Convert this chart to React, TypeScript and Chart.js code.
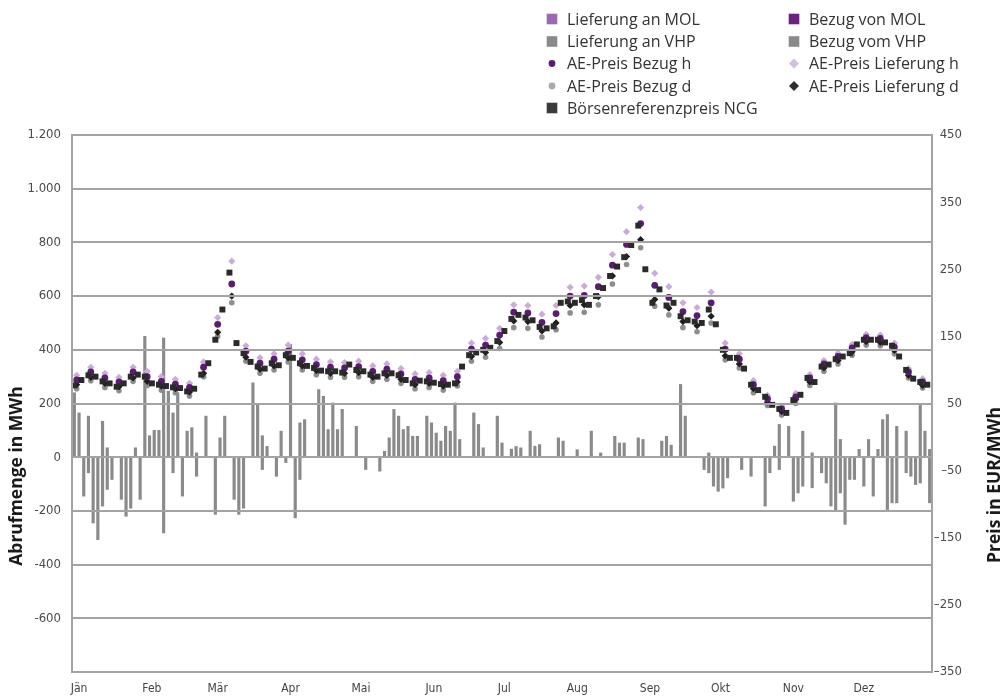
import React, { useEffect, useRef } from 'react';
import { Chart, registerables } from 'chart.js';

Chart.register(...registerables);

// ---------- categories / tick labels ----------
const MONTHS = ['Jän', 'Feb', 'Mär', 'Apr', 'Mai', 'Jun', 'Jul', 'Aug', 'Sep', 'Okt', 'Nov', 'Dez'];
const MONTH_START_DAYS = [0, 31, 59, 90, 120, 151, 181, 212, 243, 273, 304, 334];
const LEFT_TICKS = [-800, -600, -400, -200, 0, 200, 400, 600, 800, 1000, 1200];
const RIGHT_TICKS = [-350, -250, -150, -50, 50, 150, 250, 350, 450];

// ---------- Börsenreferenzpreis NCG (EUR/MWh), every 3rd day from day 0 ----------
const NCG_STEP_DAYS = 3;
const ncgPrice = [
  77, 85, 92, 90, 83, 80, 75, 80, 90, 93,
  90, 80, 78, 76, 74, 73, 68, 72, 93, 110,
  145, 190, 245, 140, 125, 112, 105, 102, 110, 107,
  122, 118, 110, 106, 103, 99, 98, 98, 96, 108,
  100, 98, 93, 90, 95, 95, 92, 85, 80, 84,
  83, 81, 79, 78, 80, 105, 122, 126, 130, 133,
  143, 158, 176, 182, 178, 174, 164, 162, 165, 200,
  202, 200, 204, 197, 210, 222, 240, 254, 268, 286,
  315, 250, 200, 220, 196, 200, 180, 174, 172, 170,
  190, 168, 130, 118, 118, 102, 78, 70, 60, 48,
  42, 36, 55, 63, 88, 82, 105, 108, 116, 120,
  125, 138, 145, 145, 145, 141, 136, 120, 100, 87,
  82, 78,
];

// ---------- AE prices (EUR/MWh), every 6th day from day 1 ----------
const DETAIL_FIRST_DAY = 1;
const DETAIL_STEP_DAYS = 6;
const aeBezugH = [
  85, 97, 88, 82, 97, 90, 83, 79, 74, 104,
  168, 228, 128, 110, 116, 128, 115, 108, 104, 103,
  105, 98, 101, 94, 86, 88, 84, 90, 131, 137,
  152, 186, 185, 171, 184, 210, 211, 224, 256, 287,
  318, 226, 208, 187, 181, 200, 131, 116, 78, 57,
  42, 60, 88, 109, 120, 133, 148, 147, 134, 97,
  82,
];
const aeLieferungH = [
  92, 104, 95, 89, 104, 98, 90, 86, 80, 112,
  178, 262, 136, 118, 124, 137, 124, 116, 112, 111,
  113, 106, 109, 102, 94, 96, 92, 98, 140, 147,
  162, 197, 196, 183, 196, 223, 225, 238, 272, 306,
  342, 244, 224, 200, 193, 216, 140, 124, 84, 62,
  46, 65, 93, 114, 125, 138, 153, 152, 140, 102,
  87,
];
const aeBezugD = [
  72, 84, 74, 69, 83, 77, 70, 66, 61, 90,
  150, 200, 113, 95, 100, 112, 100, 93, 89, 89,
  90, 83, 86, 80, 72, 74, 70, 76, 113, 119,
  132, 163, 162, 149, 160, 185, 186, 197, 228, 257,
  282, 195, 182, 163, 157, 170, 115, 103, 66, 47,
  33, 50, 77, 98, 109, 122, 137, 136, 124, 88,
  73,
];
const aeLieferungD = [
  78, 89, 80, 75, 88, 83, 76, 72, 67, 95,
  156, 210, 119, 101, 106, 118, 106, 99, 95, 95,
  96, 89, 92, 86, 78, 80, 76, 82, 120, 126,
  141, 173, 172, 158, 170, 196, 197, 209, 240, 269,
  294, 205, 192, 172, 166, 180, 121, 109, 72, 52,
  38, 56, 82, 103, 114, 127, 142, 141, 129, 92,
  77,
];

// ---------- Abrufmenge (MWh), every 2nd day from day 0 ----------
const BAR_STEP_DAYS = 2;
const lieferungVHP = [
  240, 165, 0, 153, 0, 0, 134, 35, 0, 0,
  0, 0, 0, 35, 0, 450, 80, 100, 100, 444,
  246, 165, 240, 0, 97, 110, 16, 0, 153, 0,
  0, 72, 153, 0, 0, 0, 0, 0, 277, 196,
  80, 40, 0, 0, 97, 0, 420, 0, 128, 140,
  0, 0, 252, 227, 103, 202, 103, 178, 0, 0,
  115, 0, 0, 0, 0, 0, 22, 72, 178, 153,
  103, 115, 78, 78, 0, 153, 128, 90, 60, 115,
  97, 202, 66, 0, 0, 165, 122, 35, 0, 0,
  153, 53, 0, 30, 40, 35, 0, 97, 41, 47,
  0, 0, 0, 72, 60, 0, 0, 28, 0, 0,
  97, 0, 16, 0, 0, 78, 53, 53, 0, 0,
  72, 66, 0, 0, 0, 60, 78, 45, 0, 271,
  153, 0, 0, 0, 0, 16, 0, 0, 0, 0,
  0, 0, 0, 0, 0, 0, 0, 0, 0, 41,
  122, 0, 115, 0, 0, 97, 0, 16, 0, 0,
  0, 0, 202, 66, 0, 0, 0, 29, 0, 66,
  0, 29, 140, 159, 0, 115, 0, 97, 0, 0,
  196, 97, 29,
];
const bezugVHP = [
  0, 0, -145, -58, -245, -307, -182, -120, -83, 0,
  -157, -220, -190, 0, -157, 0, 0, 0, 0, -282,
  0, -58, 0, -145, 0, 0, -71, 0, 0, 0,
  -213, 0, 0, 0, -157, -213, -190, 0, 0, 0,
  -46, 0, 0, -71, 0, -20, 0, -226, -83, 0,
  0, 0, 0, 0, 0, 0, 0, 0, 0, 0,
  0, 0, -46, 0, 0, -52, 0, 0, 0, 0,
  0, 0, 0, 0, 0, 0, 0, 0, 0, 0,
  0, 0, 0, 0, 0, 0, 0, 0, 0, 0,
  0, 0, 0, 0, 0, 0, 0, 0, 0, 0,
  0, 0, 0, 0, 0, 0, 0, 0, 0, 0,
  0, 0, 0, 0, 0, 0, 0, 0, 0, 0,
  0, 0, 0, 0, 0, 0, 0, 0, 0, 0,
  0, 0, 0, 0, -46, -58, -108, -127, -115, -77,
  0, 0, -46, 0, -71, 0, 0, -182, -58, 0,
  -46, 0, 0, -164, -133, -108, 0, -114, 0, -58,
  -96, -182, -201, -133, -250, -83, -83, 0, -108, 0,
  -145, 0, 0, -195, -170, -170, 0, -58, -71, -102,
  -96, 0, -170,
];
const lieferungMOL: number[] = [];
const bezugMOL: number[] = [];

// ---------- styling ----------
const GRID = '#a3a3a3';
const TICK_FONT = 'DejaVu Sans Condensed, DejaVu Sans, sans-serif';
const TEXT_FONT = 'Open Sans, Noto Sans, sans-serif';

const LEGEND = [
  { label: 'Lieferung an MOL', kind: 'square', color: '#9b69b1' },
  { label: 'Bezug von MOL', kind: 'square', color: '#6a2383' },
  { label: 'Lieferung an VHP', kind: 'square', color: '#8a8a8a' },
  { label: 'Bezug vom VHP', kind: 'square', color: '#8a8a8a' },
  { label: 'AE-Preis Bezug h', kind: 'dot', color: '#5b1c74' },
  { label: 'AE-Preis Lieferung h', kind: 'diamond', color: '#d4bfe0' },
  { label: 'AE-Preis Bezug d', kind: 'dot', color: '#ababab' },
  { label: 'AE-Preis Lieferung d', kind: 'diamond', color: '#2e2e2e' },
  { label: 'Börsenreferenzpreis NCG', kind: 'square', color: '#3a3a3a' },
];

function fmtThousands(v: number): string {
  const a = Math.abs(v);
  const s = a >= 1000 ? Math.floor(a / 1000) + '.' + String(a % 1000).padStart(3, '0') : String(a);
  return (v < 0 ? '-' : '') + s;
}

const decorPlugin = {
  id: 'decor',
  afterDraw(chart: any) {
    const ctx = chart.ctx as CanvasRenderingContext2D;
    ctx.save();
    const colMarkerX = [552, 794];
    const colTextX = [567, 809];
    const rowY = [19, 41.5, 63.5, 86, 108];
    ctx.font = '16px ' + TEXT_FONT;
    ctx.textBaseline = 'middle';
    ctx.textAlign = 'left';
    LEGEND.forEach((item, k) => {
      const col = k % 2;
      const row = Math.floor(k / 2);
      const cx = colMarkerX[col];
      const cy = rowY[row];
      ctx.fillStyle = item.color;
      if (item.kind === 'square') {
        ctx.fillRect(cx - 5.3, cy - 5.3, 10.6, 10.6);
      } else if (item.kind === 'dot') {
        ctx.beginPath();
        ctx.arc(cx, cy, 3.4, 0, Math.PI * 2);
        ctx.fill();
      } else {
        ctx.beginPath();
        ctx.moveTo(cx, cy - 5);
        ctx.lineTo(cx + 5, cy);
        ctx.lineTo(cx, cy + 5);
        ctx.lineTo(cx - 5, cy);
        ctx.closePath();
        ctx.fill();
      }
      ctx.fillStyle = '#333333';
      ctx.fillText(item.label, colTextX[col], cy + 1);
    });
    ctx.font = 'bold 17.5px ' + TEXT_FONT;
    ctx.fillStyle = '#1a1a1a';
    ctx.textAlign = 'center';
    ctx.textBaseline = 'middle';
    ctx.save();
    ctx.translate(17, 476);
    ctx.rotate(-Math.PI / 2);
    ctx.fillText('Abrufmenge in MWh', 0, 0);
    ctx.restore();
    ctx.save();
    ctx.translate(995, 485);
    ctx.rotate(-Math.PI / 2);
    ctx.fillText('Preis in EUR/MWh', 0, 0);
    ctx.restore();
    ctx.restore();
  },
};

export default function App() {
  const ref = useRef<HTMLCanvasElement>(null);

  useEffect(() => {
    const ncgPts = ncgPrice.map((y, i) => ({ x: i * NCG_STEP_DAYS, y }));
    const detail = (arr: number[]) => arr.map((y, i) => ({ x: DETAIL_FIRST_DAY + i * DETAIL_STEP_DAYS, y }));
    const bars = (arr: number[]) => arr.map((y, i) => ({ x: i * BAR_STEP_DAYS, y }));

    const pointBase = { type: 'line', showLine: false, yAxisID: 'y1', pointBorderWidth: 0 };
    const barBase = { type: 'bar', yAxisID: 'y', grouped: false, barThickness: 2.5, borderWidth: 0 };

    const chart = new Chart(ref.current as HTMLCanvasElement, {
      type: 'bar',
      data: {
        datasets: [
          { ...pointBase, label: 'Börsenreferenzpreis NCG', data: ncgPts, pointStyle: 'rect', pointRadius: 4.2, backgroundColor: '#2a2a2a', borderColor: '#2a2a2a', order: 0 },
          { ...pointBase, label: 'AE-Preis Bezug h', data: detail(aeBezugH), pointStyle: 'circle', pointRadius: 3.4, backgroundColor: '#5b1c74', borderColor: '#5b1c74', order: 1 },
          { ...pointBase, label: 'AE-Preis Lieferung d', data: detail(aeLieferungD), pointStyle: 'rectRot', pointRadius: 3.6, backgroundColor: '#1e1e1e', borderColor: '#1e1e1e', order: 2 },
          { ...pointBase, label: 'AE-Preis Bezug d', data: detail(aeBezugD), pointStyle: 'circle', pointRadius: 2.8, backgroundColor: '#8e8e8e', borderColor: '#8e8e8e', order: 3 },
          { ...pointBase, label: 'AE-Preis Lieferung h', data: detail(aeLieferungH), pointStyle: 'rectRot', pointRadius: 3.6, backgroundColor: '#c9acd8', borderColor: '#c9acd8', order: 4 },
          { ...barBase, label: 'Lieferung an MOL', data: bars(lieferungMOL), backgroundColor: '#9b69b1', order: 10 },
          { ...barBase, label: 'Bezug von MOL', data: bars(bezugMOL), backgroundColor: '#6a2383', order: 10 },
          { ...barBase, label: 'Lieferung an VHP', data: bars(lieferungVHP), backgroundColor: '#8a8a8a', order: 11 },
          { ...barBase, label: 'Bezug vom VHP', data: bars(bezugVHP), backgroundColor: '#8a8a8a', order: 11 },
        ] as any,
      },
      options: {
        responsive: false,
        animation: false,
        devicePixelRatio: 1,
        layout: { padding: { top: 135, left: 0, right: 46, bottom: 0 } },
        plugins: { legend: { display: false }, tooltip: { enabled: false } },
        scales: {
          x: {
            type: 'linear',
            min: -1,
            max: 365,
            offset: false,
            grid: { display: false },
            border: { display: true, color: GRID, width: 2, z: 2 },
            afterBuildTicks: (s: any) => {
              s.ticks = MONTH_START_DAYS.map((d) => ({ value: d + 2 }));
            },
            afterFit: (s: any) => {
              s.height = 25;
            },
            ticks: {
              autoSkip: false,
              maxRotation: 0,
              padding: 2,
              color: '#444',
              font: { family: TICK_FONT, size: 12 },
              callback: (_v: any, i: number) => MONTHS[i],
            },
          },
          y: {
            type: 'linear',
            position: 'left',
            min: -800,
            max: 1200,
            afterBuildTicks: (s: any) => {
              s.ticks = LEFT_TICKS.map((v) => ({ value: v }));
            },
            afterFit: (s: any) => {
              s.width = 72;
            },
            grid: { color: GRID, lineWidth: 2, drawTicks: false, z: 1 },
            border: { display: true, color: GRID, width: 2, z: 2 },
            ticks: {
              padding: 11,
              color: '#4a4a4a',
              font: { family: TICK_FONT, size: 13 },
              callback: (v: any) => (Number(v) === -800 ? '' : fmtThousands(Number(v))),
            },
          },
          y1: {
            type: 'linear',
            position: 'right',
            min: -350,
            max: 450,
            afterBuildTicks: (s: any) => {
              s.ticks = RIGHT_TICKS.map((v) => ({ value: v }));
            },
            afterFit: (s: any) => {
              s.width = 30;
            },
            grid: { display: false },
            border: { display: true, color: GRID, width: 2, z: 2 },
            ticks: {
              padding: 7,
              crossAlign: 'far',
              color: '#4a4a4a',
              font: { family: TICK_FONT, size: 13 },
              callback: (v: any) => (Number(v) < 0 ? '\u2013' + Math.abs(Number(v)) : String(v)),
            },
          },
        },
      } as any,
      plugins: [decorPlugin],
    });
    return () => chart.destroy();
  }, []);

  return (
    <div style={{ position: 'fixed', left: 0, top: 0, width: 1008, height: 697, background: '#ffffff' }}>
      <canvas ref={ref} width={1008} height={697} style={{ display: 'block', width: 1008, height: 697 }} />
    </div>
  );
}
